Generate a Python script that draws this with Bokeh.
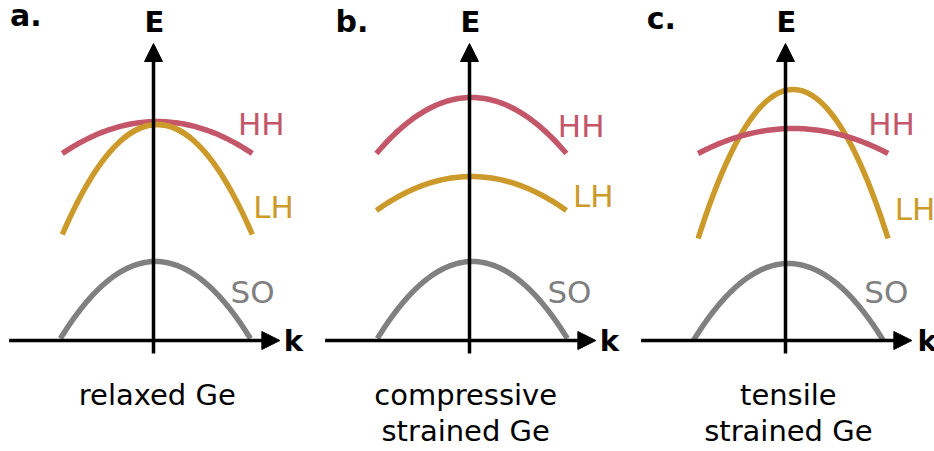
import numpy as np
from bokeh.plotting import figure
from bokeh.layouts import row
from bokeh.models import Range1d, Arrow, NormalHead
from bokeh.core.properties import value
from bokeh.embed import file_html
from bokeh.resources import INLINE

# ---- band-structure data (k in arbitrary units, E in arbitrary units) ----
panel_tags = ["a.", "b.", "c."]
captions = [["relaxed Ge"], ["compressive", "strained Ge"], ["tensile", "strained Ge"]]
band_names = ["HH", "LH", "SO"]

# band maxima at the zone centre
hh_top = [2.19, 2.43, 2.12]
lh_top = [2.16, 1.64, 2.51]
so_top = [0.79, 0.79, 0.77]
# energy drop at |k - k0| = 1 (curvature)
hh_drop = [0.32, 0.56, 0.25]
lh_drop = [1.10, 0.34, 1.49]
so_drop = [0.77, 0.77, 0.77]
# position of each band maximum along k
hh_k0 = [0.04, 0.02, 0.08]
lh_k0 = [0.04, 0.02, 0.08]
so_k0 = [0.02, 0.03, 0.03]

colors = {"HH": "#c4566a", "LH": "#cc9a2a", "SO": "#808080"}

# ---- layout ----
H = 451
widths = [316, 316, 302]
PX_K, PX_E = 95, 100          # pixels per unit k / unit E
AX_X, AX_Y = 153, 340          # axis origin inside each panel (from left / top)
DY = 0.12                      # baseline correction for text placement

# label anchors (k, E) per panel
band_label_pos = [
    {"HH": (0.89, 2.05), "LH": (1.05, 1.22), "SO": (0.81, 0.37)},
    {"HH": (0.93, 2.03), "LH": (1.09, 1.33), "SO": (0.82, 0.37)},
    {"HH": (0.87, 2.05), "LH": (1.15, 1.20), "SO": (0.83, 0.37)},
]
tag_pos = [(-1.51, 3.13), (-1.41, 3.07), (-1.46, 3.10)]
k_label_x = [1.37, 1.37, 1.39]
caption_x = [0.04, -0.04, 0.03]
caption_y = [-0.66, -1.02]

FONT = value("DejaVu Sans")

figs = []
for i in range(3):
    w = widths[i]
    p = figure(width=w, height=H,
               x_range=Range1d(-AX_X / PX_K, (w - AX_X) / PX_K),
               y_range=Range1d(-(H - AX_Y) / PX_E, AX_Y / PX_E),
               x_axis_type=None, y_axis_type=None,
               output_backend="svg", toolbar_location=None, min_border=0)
    p.grid.visible = False
    p.outline_line_color = None
    p.background_fill_color = "white"
    p.border_fill_color = "white"

    # bands: E(k) = E_top - drop * (k - k0)^2
    for name, top, drop, k0 in (("SO", so_top, so_drop, so_k0),
                                ("LH", lh_top, lh_drop, lh_k0),
                                ("HH", hh_top, hh_drop, hh_k0)):
        k = np.linspace(k0[i] - 1.0, k0[i] + 1.0, 80)
        e = top[i] - drop[i] * (k - k0[i]) ** 2
        p.line(k, e, line_color=colors[name], line_width=5.5)

    # where HH and LH touch, keep the LH crest visible just under HH
    if i == 0:
        k = np.linspace(lh_k0[i] - 0.35, lh_k0[i] + 0.35, 40)
        p.line(k, lh_top[i] - lh_drop[i] * (k - lh_k0[i]) ** 2,
               line_color=colors["LH"], line_width=5.5)

    # axes with arrow heads
    p.add_layout(Arrow(end=NormalHead(size=18, fill_color="black", line_color="black", line_width=1),
                       x_start=-1.52, y_start=0.0, x_end=1.33, y_end=0.0,
                       line_color="black", line_width=3.5))
    p.add_layout(Arrow(end=NormalHead(size=18, fill_color="black", line_color="black", line_width=1),
                       x_start=0.0, y_start=-0.13, x_end=0.0, y_end=2.97,
                       line_color="black", line_width=3.5))

    # band labels
    for name in band_names:
        x, y = band_label_pos[i][name]
        p.text([x], [y + DY], text=[name], text_color=colors[name], text_font=FONT,
               text_font_size=value("31px"), text_align="left", text_baseline="alphabetic")

    # axis labels
    p.text([0.01], [3.07 + DY], text=["E"], text_font=FONT, text_font_style="bold",
           text_font_size=value("29px"), text_align="center", text_baseline="alphabetic")
    p.text([k_label_x[i]], [-0.12 + DY], text=["k"], text_font=FONT, text_font_style="bold",
           text_font_size=value("29px"), text_align="left", text_baseline="alphabetic")

    # panel tag
    tx, ty = tag_pos[i]
    p.text([tx], [ty + DY], text=[panel_tags[i]], text_font=FONT, text_font_style="bold",
           text_font_size=value("30px"), text_align="left", text_baseline="alphabetic")

    # caption
    for j, line in enumerate(captions[i]):
        p.text([caption_x[i]], [caption_y[j] + DY], text=[line], text_font=FONT,
               text_font_size=value("29px"), text_align="center", text_baseline="alphabetic")

    figs.append(p)

layout = row(*figs, spacing=0)
open("out.html", "w").write(file_html(layout, INLINE))
